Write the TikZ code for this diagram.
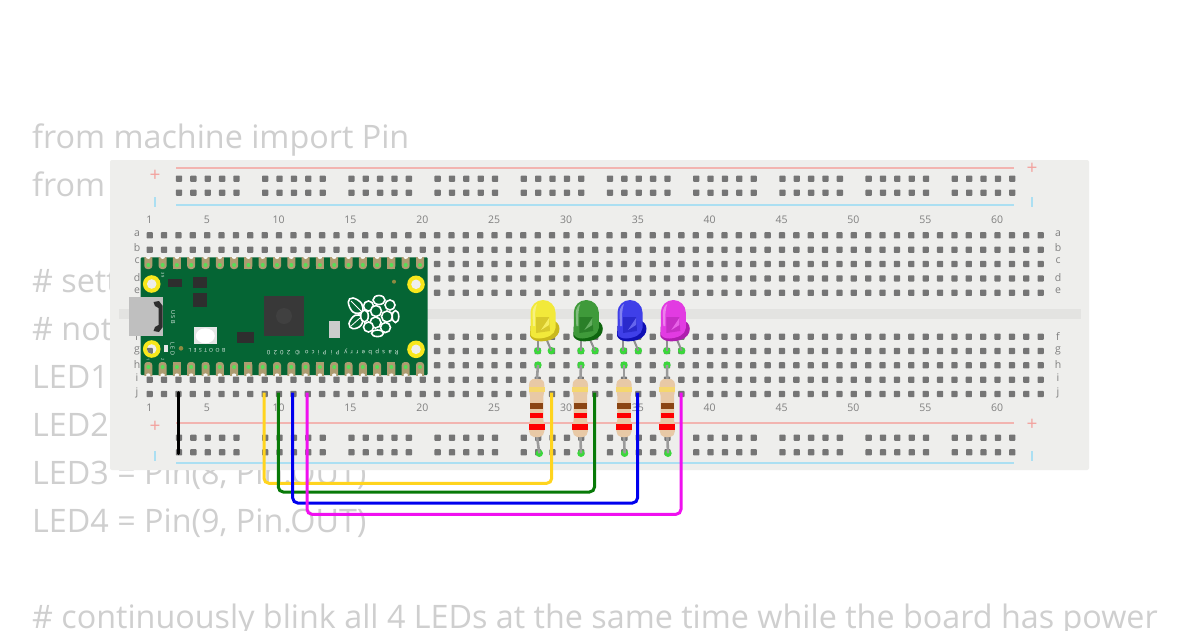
\documentclass[tikz,border=0pt]{standalone}
\usepackage{fontspec}
\setmainfont{Open Sans}
\usepackage{tikz}
\usetikzlibrary{positioning}
\definecolor{codegray}{HTML}{CFCFCF}
\definecolor{boardgray}{HTML}{EEEEEC}
\definecolor{groovegray}{HTML}{E3E3E1}
\definecolor{holegray}{HTML}{757575}
\definecolor{labelgray}{HTML}{808080}
\definecolor{railred}{HTML}{F2B4B0}
\definecolor{railblue}{HTML}{ABDFF2}
\definecolor{picogreen}{HTML}{056534}
\definecolor{padtan}{HTML}{AD9C70}
\definecolor{dotgreen}{HTML}{3AD83A}
\definecolor{ringyellow}{HTML}{F8E71C}
\definecolor{chipdark}{HTML}{2E2E2E}
\definecolor{legbrown}{HTML}{8F8F8F}
\definecolor{bodytan}{HTML}{E8C9A6}
\definecolor{bandgold}{HTML}{F5D76E}
\definecolor{bandbrown}{HTML}{8B4513}
\definecolor{wireyellow}{HTML}{FFD41E}
\definecolor{wiregreen}{HTML}{087A08}
\definecolor{wireblue}{HTML}{0000EE}
\definecolor{wiremagenta}{HTML}{F010F0}

\begin{document}
\begin{tikzpicture}[x=1pt, y=-1pt,
	codeline/.style={anchor=base west, inner sep=0pt, text=codegray, font={\fontsize{32.3}{32.3}\selectfont}},
	hole/.style={fill=holegray, rounded corners=0.8pt, minimum size=6.3pt, inner sep=0pt},
	boardnum/.style={inner sep=0pt, text=labelgray, font={\fontsize{10.5}{10.5}\selectfont}},
	boardletter/.style={inner sep=0pt, text=labelgray, font={\fontsize{10.5}{10.5}\selectfont}},
	railsign/.style={inner sep=0pt, text=railred!90!red, font={\fontsize{19}{19}\selectfont}},
	picotext/.style={inner sep=0pt, text=white!90!picogreen, font={\fontsize{5.5}{5.5}\selectfont}},
	chip/.style={fill=chipdark},
	pindot/.style={circle, fill=dotgreen, minimum size=7.4pt, inner sep=0pt},
	wire/.style={line width=3pt, rounded corners=5pt},
	leg/.style={line width=2pt, draw=legbrown},
	lead/.style={line width=2.6pt, draw=legbrown!90!white}]
	\useasboundingbox (0, 0) rectangle (1200, 630);
	\fill [white] (0, 0) rectangle (1200, 630);
	\node [codeline] (c1) at (32, 148) {from machine import Pin};
	\node [codeline] (c2) at (32, 196) {from};
	\node [codeline] (c3) at (32, 292) {\# sett};
	\node [codeline] (c4) at (32, 340) {\# not};
	\node [codeline] (c5) at (32, 388) {LED1};
	\node [codeline] (c6) at (32, 436) {LED2};
	\node [codeline] (c7) at (32, 484) {LED3 = Pin(8, Pin.OUT)};
	\node [codeline] (c8) at (32, 532) {LED4 = Pin(9, Pin.OUT)};
	\node [codeline] (c9) at (32, 628) {\# continuously blink all 4 LEDs at the same time while the board has power};

	\fill [boardgray, rounded corners=2pt] (110, 160) rectangle (1089, 470);
	\fill [groovegray] (119, 309.3) rectangle (1081, 319.3);
	\draw [railred, line width=1.2pt] (176, 168) to (1014, 168);
	\draw [railblue, line width=1.2pt] (176, 205) to (1014, 205);
	\draw [railred, line width=1.2pt] (176, 423) to (1014, 423);
	\draw [railblue, line width=1.2pt] (176, 463) to (1014, 463);
	\node [railsign] (s1) at (155, 176) {+};
	\node [railsign] (s2) at (1032, 168.5) {+};
	\node [railsign] (s3) at (155, 427) {+};
	\node [railsign] (s4) at (1032, 424.5) {+};
	\draw [railblue, line width=1.2pt] (155, 197) to (155, 207);
	\draw [railblue, line width=1.2pt] (1032, 197) to (1032, 207);
	\draw [railblue, line width=1.2pt] (155, 451) to (155, 461);
	\draw [railblue, line width=1.2pt] (1032, 451) to (1032, 461);

	\foreach \col in {1,...,63}
		\foreach \rowy in {235.3,249.7,264,278.4,292.8,336.7,351,365.3,379.7,394}
			\node [hole] (h\col-\rowy) at ({149.7+14.37*(\col-1)}, \rowy) {};
	\foreach \grp in {0,...,9}
		\foreach \off in {0,...,4}
			\foreach \rowy in {178.7,192.7,437.7,452.3}
				\node [hole] (r\grp-\off-\rowy) at ({179+86.2*\grp+14.37*\off}, \rowy) {};

	\foreach \num in {1,5,10,15,20,25,30,35,40,45,50,55,60} {
		\node [boardnum] (nt\num) at ({149.3+14.37*(\num-1)}, 220) {\num};
		\node [boardnum] (nb\num) at ({149.3+14.37*(\num-1)}, 408) {\num};
	}
	\foreach \rowl/\rowly in {a/234,b/248,c/261,d/278,e/291,f/336,g/351,h/365,i/378,j/393} {
		\node [boardletter] (ll\rowl) at (137, \rowly) {\rowl};
		\node [boardletter] (lr\rowl) at (1058, \rowly) {\rowl};
	}

	\fill [picogreen, rounded corners=1pt] (140.7, 257.3) rectangle (427.7, 375);
	\begin{scope}
		\clip (140.7, 257.3) rectangle (427.7, 375);
		\foreach \pin in {0,...,19} {
			\fill [padtan, rounded corners=3pt] ({148.3+14.3*\pin-4}, 250) rectangle ({148.3+14.3*\pin+4}, 269);
			\fill [padtan, rounded corners=3pt] ({148.3+14.3*\pin-4}, 362) rectangle ({148.3+14.3*\pin+4}, 382);
		}
		\foreach \pin in {2,7,12,17} {
			\fill [padtan] ({148.3+14.3*\pin-4}, 255) rectangle ({148.3+14.3*\pin+4}, 268.5);
			\fill [padtan] ({148.3+14.3*\pin-4}, 362) rectangle ({148.3+14.3*\pin+4}, 375);
		}
		\foreach \pin in {0,...,19} {
			\fill [dotgreen!85!white] ({148.3+14.3*\pin}, 265) circle (2pt);
			\fill [dotgreen!85!white] ({148.3+14.3*\pin}, 367) circle (2pt);
			\fill [white!92!padtan] ({148.3+14.3*\pin}, 257.3) ellipse (2.2pt and 1.6pt);
			\fill [white!92!padtan] ({148.3+14.3*\pin}, 375) ellipse (2.2pt and 1.6pt);
		}
	\end{scope}

	\foreach \ringx/\ringy in {151.7/284, 416/284.3, 151.7/349, 416/349.3} {
		\fill [ringyellow] (\ringx, \ringy) circle (8.8pt);
		\fill [boardgray] (\ringx, \ringy) circle (4.8pt);
	}
	\begin{scope}
		\clip (151.7, 349) circle (4.8pt);
		\node [hole] (hr) at (149.7, 351) {};
	\end{scope}

	\fill [black!25] (129, 296.7) rectangle (162.7, 336);
	\fill [chipdark] (153.5, 302) -- (159, 301) -- (162.7, 306) -- (162.7, 327) -- (159, 332) -- (153.5, 331) -- (155, 327) -- (158.5, 325) -- (158.5, 308) -- (155, 306) -- cycle;
	\fill [chip] (168.3, 279) rectangle (181.7, 286.7);
	\fill [chip] (192.7, 277.3) rectangle (206.7, 288.3);
	\fill [chip] (192.7, 293.3) rectangle (206.7, 307.3);
	\fill [chip] (237.3, 332) rectangle (254, 342.7);
	\fill [black!78] (264, 296) rectangle (304, 336);
	\fill [black!75] (284, 316) circle (8pt);
	\fill [black!20] (328.7, 320.7) rectangle (340, 338);
	\fill [white!90!black] (194, 327.3) rectangle (216.7, 344.3);
	\fill [white] (205.3, 335.8) ellipse (9.5pt and 7.5pt);
	\fill [white!90!black] (164, 345) rectangle (168.3, 352.3);
	\fill [olive!55!gray] (181, 348.3) circle (2.3pt);
	\fill [olive!55!gray] (394, 281.7) circle (2pt);

	\node [picotext, rotate=180, font={\fontsize{6}{6}\selectfont}] (pt1) at (332.8, 352) {\addfontfeature{LetterSpace=54}Raspberry Pi Pico © 2020};
	\node [picotext, rotate=180, font={\fontsize{5.2}{5.2}\selectfont}] (pt2) at (207, 350.7) {\addfontfeature{LetterSpace=45}BOOTSEL};
	\node [picotext, rotate=-90] (pt3) at (173, 317) {\addfontfeature{LetterSpace=30}USB};
	\node [picotext, rotate=-90] (pt4) at (172.7, 349) {\addfontfeature{LetterSpace=20}LED};
	\node [picotext, rotate=-90, font={\fontsize{4}{4}\selectfont}] (pt5) at (162.7, 275) {39};
	\node [picotext, rotate=-90, font={\fontsize{4}{4}\selectfont}] (pt6) at (148, 360) {1};
	\node [picotext, rotate=-90, font={\fontsize{4}{4}\selectfont}] (pt7) at (162.7, 360) {2};

	\begin{scope}[white, line width=1.6pt, fill=picogreen]
		\filldraw [smooth cycle, tension=0.7] plot coordinates {(348.3, 302) (353, 298) (361.7, 303.7) (361.7, 312) (353, 312)};
		\filldraw [smooth cycle, tension=0.7] plot coordinates {(349, 323.7) (355, 315.3) (362.3, 317) (361, 325.3) (353, 328.7)};
		\draw [line width=0.8pt] (351, 301) to (361, 311);
		\draw [line width=0.8pt] (351, 326) to (360, 318);
		\filldraw (379, 300) ellipse (6pt and 4.5pt);
		\filldraw (368.5, 306) circle (5pt);
		\filldraw (390, 305) circle (5pt);
		\filldraw (364.5, 316) ellipse (3.8pt and 6pt);
		\filldraw (376, 311) circle (5.5pt);
		\filldraw (387, 316.5) circle (5.5pt);
		\filldraw (395.5, 316.5) ellipse (3.3pt and 6pt);
		\filldraw (375.5, 322.5) circle (5.5pt);
		\filldraw (368.5, 327) circle (5pt);
		\filldraw (385.5, 327.5) circle (5pt);
		\filldraw (377.5, 333.3) ellipse (6pt and 3.3pt);
	\end{scope}

	\foreach \ledn/\ledx/\dota/\dotb/\bodycol/\darkcol/\midcol in {y/543/537.7/551.3/F2E93A/C9B81D/D8C92C, g/586.3/581/595/3F9A3A/0F660F/2A7F28, b/630/623.3/638.3/3F3FE8/1010B4/2A2ACC, m/673.3/666.7/681.7/E23BE2/AE1EAE/C62EC6} {
		\definecolor{ledbody}{HTML}{\bodycol}
		\definecolor{leddark}{HTML}{\darkcol}
		\definecolor{ledmid}{HTML}{\midcol}
		\node [pindot] (la\ledn) at (\dota, 350.7) {};
		\node [pindot] (lb\ledn) at (\dotb, 350.7) {};
		\coordinate (lc\ledn) at (\dota, 338);
		\coordinate (ld\ledn) at (\ledx+3, 338);
		\draw [leg] (lc\ledn) to (la\ledn.center);
		\draw [leg] (ld\ledn) to (lb\ledn.center);
		\fill [leddark] (\ledx-12.5, 326) -- (\ledx+8, 320) .. controls (\ledx+19, 321) and (\ledx+20, 336) .. (\ledx+7, 340) .. controls (\ledx, 342) and (\ledx-10, 342.5) .. (\ledx-13, 336) -- cycle;
		\fill [ledbody] (\ledx-12.5, 334) -- (\ledx-12.5, 312.5) arc (180:0:12.5pt) -- (\ledx+12.5, 328) .. controls (\ledx+12, 335) and (\ledx+4, 338) .. (\ledx-4, 338.5) .. controls (\ledx-8, 338.5) and (\ledx-12, 337) .. (\ledx-12.5, 334) -- cycle;
		\fill [ledmid] (\ledx-7, 317) -- (\ledx+6, 317) -- (\ledx+7, 331) -- (\ledx-7, 333) -- cycle;
		\fill [ledbody!80!white] (\ledx+6, 318) -- (\ledx+6, 325) -- (\ledx-2, 330) -- cycle;
		\fill [ledbody!65!white] (\ledx-10, 326) -- (\ledx-10.5, 312) .. controls (\ledx-10, 308) and (\ledx-8, 305) .. (\ledx-6, 304) .. controls (\ledx-8, 309) and (\ledx-8, 314) .. (\ledx-8, 326) -- cycle;
	}

	\foreach \resn/\resx/\dotx/\doty in {y/536.7/538/539.3, g/580.3/581/581, b/624/624/624.6, m/667.3/667/668} {
		\node [pindot] (ra\resn) at (\dotx, 365) {};
		\node [pindot] (rb\resn) at (\doty, 453.3) {};
		\coordinate (rc\resn) at (\resx, 382);
		\coordinate (rd\resn) at (\resx, 434);
		\draw [lead] (ra\resn.center) to (rc\resn);
		\draw [lead] (rd\resn) to (rb\resn.center);
		\fill [bodytan] (\resx-4, 379) .. controls (\resx-9, 380) and (\resx-8, 390) .. (\resx-6.7, 396) -- (\resx-6.7, 420) .. controls (\resx-8, 428) and (\resx-9, 436) .. (\resx-3, 437) -- (\resx+3, 437) .. controls (\resx+9, 436) and (\resx+8, 428) .. (\resx+6.7, 420) -- (\resx+6.7, 396) .. controls (\resx+8, 390) and (\resx+9, 380) .. (\resx+4, 379) -- cycle;
		\fill [bandgold] (\resx-8, 386.7) rectangle (\resx+8, 391.7);
		\fill [bandbrown] (\resx-6.7, 403.3) rectangle (\resx+6.7, 408.7);
		\fill [red] (\resx-6.7, 413.3) rectangle (\resx+6.7, 418.3);
		\fill [red] (\resx-8, 424) rectangle (\resx+8, 430);
	}

	\coordinate (bka) at (178, 392.5);
	\coordinate (bkb) at (178, 453.5);
	\coordinate (ya) at (264, 392.5);
	\coordinate (yb) at (264, 483.3);
	\coordinate (yc) at (551.7, 483.3);
	\coordinate (yd) at (551.7, 392.5);
	\coordinate (ga) at (278.3, 392.5);
	\coordinate (gb) at (278.3, 492);
	\coordinate (gc) at (594.5, 492);
	\coordinate (gd) at (594.5, 392.5);
	\coordinate (ba) at (292.7, 392.5);
	\coordinate (bb) at (292.7, 503);
	\coordinate (bc) at (637.5, 503);
	\coordinate (bd) at (637.5, 392.5);
	\coordinate (ma) at (307, 392.5);
	\coordinate (mb) at (307, 514.3);
	\coordinate (mc) at (681, 514.3);
	\coordinate (md) at (681, 392.5);
	\draw [line width=3pt, line cap=round, black] (bka) to (bkb);
	\draw [wire, wireyellow] (ya) -- (yb) -- (yc) -- (yd);
	\draw [wire, wiregreen] (ga) -- (gb) -- (gc) -- (gd);
	\draw [wire, wireblue] (ba) -- (bb) -- (bc) -- (bd);
	\draw [wire, wiremagenta] (ma) -- (mb) -- (mc) -- (md);
\end{tikzpicture}
\end{document}
